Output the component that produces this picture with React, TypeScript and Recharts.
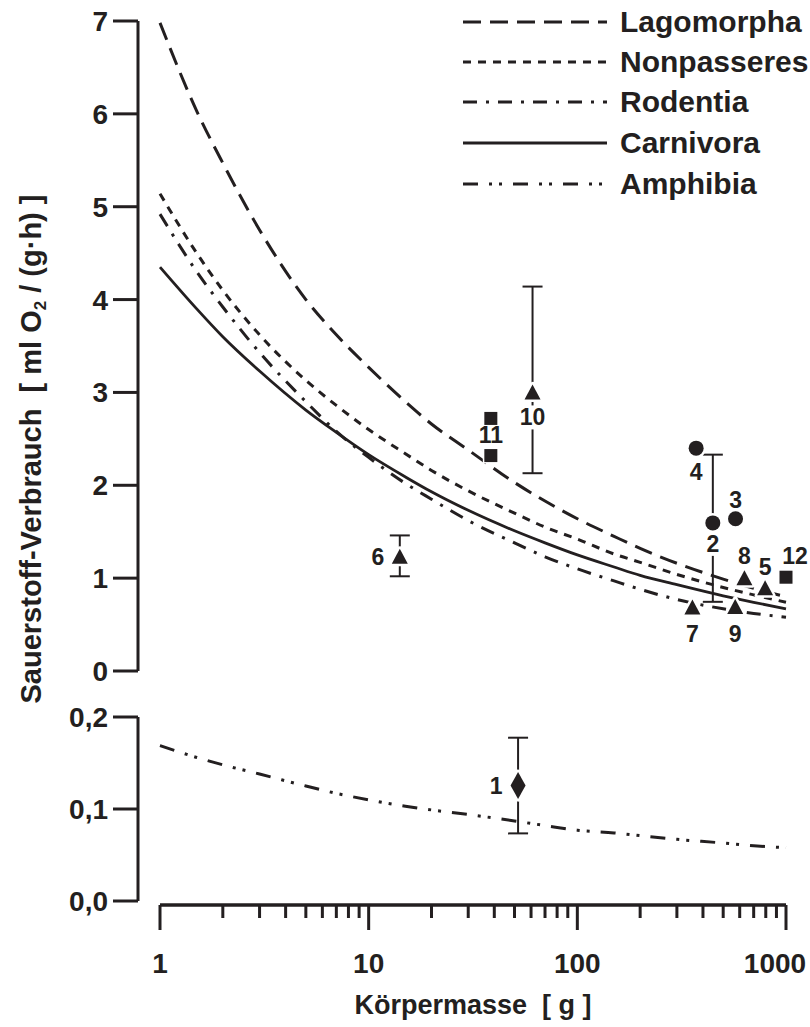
import React from 'react';
import { ComposedChart, Line, Scatter, XAxis, YAxis, ErrorBar, LabelList, Legend } from 'recharts';

const INK = '#231f20';
const FONT = '"Liberation Sans", Arial, Helvetica, sans-serif';

const masses = [1, 1.5, 2, 3, 5, 7, 10, 15, 20, 30, 50, 70, 100, 150, 200, 300, 500, 700, 1000];

// oxygen consumption [ml O2 / (g*h)] along each curve
const lagomorpha = [6.98, 6.03, 5.47, 4.75, 4.0, 3.62, 3.27, 2.9, 2.66, 2.38, 2.03, 1.83, 1.64, 1.45, 1.32, 1.16, 0.99, 0.89, 0.8];
const nonpasseres = [5.14, 4.5, 4.1, 3.62, 3.13, 2.86, 2.6, 2.34, 2.16, 1.94, 1.7, 1.55, 1.42, 1.26, 1.17, 1.04, 0.9, 0.82, 0.74];
const rodentia = [4.92, 4.3, 3.92, 3.43, 2.9, 2.58, 2.3, 2.02, 1.85, 1.62, 1.38, 1.23, 1.1, 0.97, 0.88, 0.77, 0.67, 0.62, 0.58];
const carnivora = [4.35, 3.9, 3.6, 3.23, 2.81, 2.57, 2.33, 2.09, 1.93, 1.73, 1.51, 1.38, 1.25, 1.12, 1.03, 0.93, 0.81, 0.74, 0.67];
const amphibia = [0.169, 0.156, 0.148, 0.138, 0.125, 0.117, 0.11, 0.103, 0.099, 0.094, 0.087, 0.082, 0.077, 0.074, 0.071, 0.067, 0.063, 0.06, 0.058];

// measured species (numbered as in the figure)
const trianglePoints = [
  { m: 61, v: 3.0, err: [0.87, 1.14], tag: '10' },
  { m: 14.1, v: 1.23, err: [0.21, 0.23], tag: '6' },
  { m: 356, v: 0.685, tag: '7' },
  { m: 571, v: 0.69, tag: '9' },
  { m: 632, v: 1.0, tag: '8' },
  { m: 794, v: 0.89, tag: '5' },
];
const squarePoints = [
  { m: 38.5, v: 2.72, tag: '11' },
  { m: 38.5, v: 2.32, tag: '' },
  { m: 1000, v: 1.01, tag: '12' },
];
const circlePoints = [
  { m: 371, v: 2.4, tag: '4' },
  { m: 446, v: 1.595, err: [0.85, 0.735], tag: '2' },
  { m: 573, v: 1.64, tag: '3' },
];
const diamondPoints = [{ m: 52, v: 0.1255, err: [0.052, 0.052], tag: '1' }];

const upperTicks = [0, 1, 2, 3, 4, 5, 6, 7];
const lowerTicks = [0, 0.1, 0.2];
const majorMassTicks = [1, 10, 100, 1000];
const massTicks = [1, 2, 3, 4, 5, 6, 7, 8, 9, 10, 20, 30, 40, 50, 60, 70, 80, 90, 100, 200, 300, 400, 500, 600, 700, 800, 900, 1000];

const curveRows = masses.map((m, i) => ({
  m,
  lagomorpha: lagomorpha[i],
  nonpasseres: nonpasseres[i],
  rodentia: rodentia[i],
  carnivora: carnivora[i],
}));
const amphibiaRows = masses.map((m, i) => ({ m, amphibia: amphibia[i] }));

// line styles, shared by plot and legend
const seriesStyles = [
  { key: 'lagomorpha', name: 'Lagomorpha', dash: '18 9', width: 3 },
  { key: 'nonpasseres', name: 'Nonpasseres', dash: '8 7', width: 3 },
  { key: 'rodentia', name: 'Rodentia', dash: '14 9 3 9', width: 3 },
  { key: 'carnivora', name: 'Carnivora', dash: undefined, width: 2.8 },
  { key: 'amphibia', name: 'Amphibia', dash: '15 11 3 7 3 11', width: 3 },
];
const legendRows = [22, 62, 102, 143, 184];

// where the number sits relative to its marker [dx, dy]
const labelPlacement: Record<string, [number, number]> = {
  '1': [-22, 0], '2': [0, 21], '3': [0, -19], '4': [0, 24], '5': [0, -21], '6': [-22, 0],
  '7': [0, 27], '8': [0, -22], '9': [0, 27], '10': [0, 25], '11': [0, 17], '12': [9, -21],
};
const knockout = ['2', '10'];

const halo = (w: number) => ({ stroke: '#fff', strokeWidth: w, paintOrder: 'stroke' as const });

const renderTriangle = (p: any) => (
  <polygon points={`${p.cx},${p.cy - 8} ${p.cx - 8},${p.cy + 7} ${p.cx + 8},${p.cy + 7}`} fill={INK} {...halo(5)} strokeLinejoin="round" />
);
const renderSquare = (p: any) => <rect x={p.cx - 6.5} y={p.cy - 6.5} width={13} height={13} fill={INK} {...halo(3)} />;
const renderCircle = (p: any) => <circle cx={p.cx} cy={p.cy} r={7.5} fill={INK} {...halo(5)} />;
const renderDiamond = (p: any) => (
  <polygon points={`${p.cx},${p.cy - 13.5} ${p.cx + 7.5},${p.cy} ${p.cx},${p.cy + 13.5} ${p.cx - 7.5},${p.cy}`} fill={INK} {...halo(5)} strokeLinejoin="round" />
);

const renderTag = (props: any) => {
  const tag = String(props.value ?? '');
  if (!tag) return null;
  const vb = props.viewBox || props;
  const cx = vb.x + (vb.width || 0) / 2;
  const cy = vb.y + (vb.height || 0) / 2;
  const [dx, dy] = labelPlacement[tag] || [0, 0];
  const x = cx + dx;
  const y = cy + dy;
  return (
    <g>
      {knockout.includes(tag) && <rect x={x - 15} y={y - 12} width={30} height={24} fill="#fff" />}
      <text x={x} y={y + 8} textAnchor="middle" fontSize={23} fontWeight="bold" fontFamily={FONT} fill={INK}>
        {tag}
      </text>
    </g>
  );
};

const MassTick = (props: any) => {
  const { x, y, payload } = props;
  const value = payload.value;
  const major = majorMassTicks.includes(value);
  return (
    <g>
      <line x1={x} x2={x} y1={y} y2={y + (major ? 25 : 13)} stroke={INK} strokeWidth={3} />
      {major && (
        <text x={value === 1000 ? x - 11 : x} y={y + 68} textAnchor="middle" fontSize={28} fontWeight="bold" fontFamily={FONT} fill={INK}>
          {value}
        </text>
      )}
    </g>
  );
};

const renderYTitle = () => (
  <text x={41} y={449} transform="rotate(-90 41 449)" textAnchor="middle" fontSize={29} fontWeight="bold" fontFamily={FONT} fill={INK} style={{ whiteSpace: 'pre' }}>
    {'Sauerstoff-Verbrauch  [ ml O'}
    <tspan fontSize={17} dy={5}>2</tspan>
    <tspan dy={-5}>{' / (g·h) ]'}</tspan>
  </text>
);

const renderXTitle = (props: any) => {
  const vb = props.viewBox || { x: 160, width: 626 };
  return (
    <text x={vb.x + vb.width / 2} y={214} textAnchor="middle" fontSize={27} fontWeight="bold" fontFamily={FONT} fill={INK} style={{ whiteSpace: 'pre' }}>
      {'Körpermasse  [ g ]'}
    </text>
  );
};

const LegendKey = () => (
  <svg width={355} height={205}>
    {seriesStyles.map((s, i) => (
      <g key={s.key}>
        <line x1={8} x2={152} y1={legendRows[i]} y2={legendRows[i]} stroke={INK} strokeWidth={s.width} strokeDasharray={s.dash} />
        <text x={165} y={legendRows[i] + 10} fontSize={30} fontWeight="bold" fontFamily={FONT} fill={INK}>
          {s.name}
        </text>
      </g>
    ))}
  </svg>
);

const yTickStyle = { fontSize: 28, fontWeight: 'bold', fill: INK, fontFamily: FONT };
const axisStroke = { stroke: INK, strokeWidth: 3 };

const hiddenMassAxis = (
  <XAxis dataKey="m" type="number" scale="log" domain={[1, 1000]} hide height={0} padding={{ left: 22, right: 0 }} />
);

export default function App() {
  const upperSeries = seriesStyles.slice(0, 4);
  const amph = seriesStyles[4];
  return (
    <div style={{ position: 'absolute', left: 0, top: 0, width: 810, height: 1027, background: '#fff', fontFamily: FONT }}>
      {/* upper panel: mammals and birds */}
      <div style={{ position: 'absolute', left: 0, top: 0 }}>
        <ComposedChart width={810} height={720} data={curveRows} margin={{ top: 21, right: 24, bottom: 49, left: 78 }}>
          {hiddenMassAxis}
          <YAxis
            type="number"
            domain={[0, 7]}
            ticks={upperTicks}
            width={60}
            tick={yTickStyle}
            tickSize={25}
            tickMargin={5}
            tickLine={axisStroke}
            axisLine={axisStroke}
            label={renderYTitle}
          />
          <Legend layout="vertical" align="center" verticalAlign="middle" wrapperStyle={{ left: 455, top: 0, width: 355, height: 205 }} content={<LegendKey />} />
          {upperSeries.map((s) => (
            <Line
              key={s.key}
              dataKey={s.key}
              name={s.name}
              type="monotone"
              stroke={INK}
              strokeWidth={s.width}
              strokeDasharray={s.dash}
              dot={false}
              activeDot={false}
              isAnimationActive={false}
            />
          ))}
          <Scatter data={circlePoints} dataKey="v" shape={renderCircle} isAnimationActive={false}>
            <ErrorBar dataKey="err" direction="y" width={10} stroke={INK} strokeWidth={2} isAnimationActive={false} />
            <LabelList dataKey="tag" content={renderTag} />
          </Scatter>
          <Scatter data={squarePoints} dataKey="v" shape={renderSquare} isAnimationActive={false}>
            <LabelList dataKey="tag" content={renderTag} />
          </Scatter>
          <Scatter data={trianglePoints} dataKey="v" shape={renderTriangle} isAnimationActive={false}>
            <ErrorBar dataKey="err" direction="y" width={10} stroke={INK} strokeWidth={2} isAnimationActive={false} />
            <LabelList dataKey="tag" content={renderTag} />
          </Scatter>
        </ComposedChart>
      </div>

      {/* lower panel: amphibians */}
      <div style={{ position: 'absolute', left: 0, top: 690 }}>
        <ComposedChart width={810} height={230} data={amphibiaRows} margin={{ top: 27, right: 24, bottom: 19, left: 78 }}>
          {hiddenMassAxis}
          <YAxis
            type="number"
            domain={[0, 0.2]}
            ticks={lowerTicks}
            width={60}
            tick={yTickStyle}
            tickFormatter={(v: number) => v.toFixed(1).replace('.', ',')}
            tickSize={25}
            tickMargin={5}
            tickLine={axisStroke}
            axisLine={axisStroke}
          />
          <Line
            dataKey={amph.key}
            name={amph.name}
            type="monotone"
            stroke={INK}
            strokeWidth={amph.width}
            strokeDasharray={amph.dash}
            dot={false}
            activeDot={false}
            isAnimationActive={false}
          />
          <Scatter data={diamondPoints} dataKey="v" shape={renderDiamond} isAnimationActive={false}>
            <ErrorBar dataKey="err" direction="y" width={10} stroke={INK} strokeWidth={2} isAnimationActive={false} />
            <LabelList dataKey="tag" content={renderTag} />
          </Scatter>
        </ComposedChart>
      </div>

      {/* shared body-mass axis */}
      <div style={{ position: 'absolute', left: 0, top: 800 }}>
        <ComposedChart width={810} height={227} data={amphibiaRows} margin={{ top: 0, right: 24, bottom: 0, left: 160 }}>
          <XAxis
            dataKey="m"
            type="number"
            scale="log"
            domain={[1, 1000]}
            allowDataOverflow
            ticks={massTicks}
            interval={0}
            tick={<MassTick />}
            tickLine={false}
            tickSize={0}
            tickMargin={0}
            axisLine={{ stroke: INK, strokeWidth: 3.5 }}
            height={122}
            label={renderXTitle}
          />
          <YAxis hide domain={[0, 0.2]} />
        </ComposedChart>
      </div>
    </div>
  );
}
